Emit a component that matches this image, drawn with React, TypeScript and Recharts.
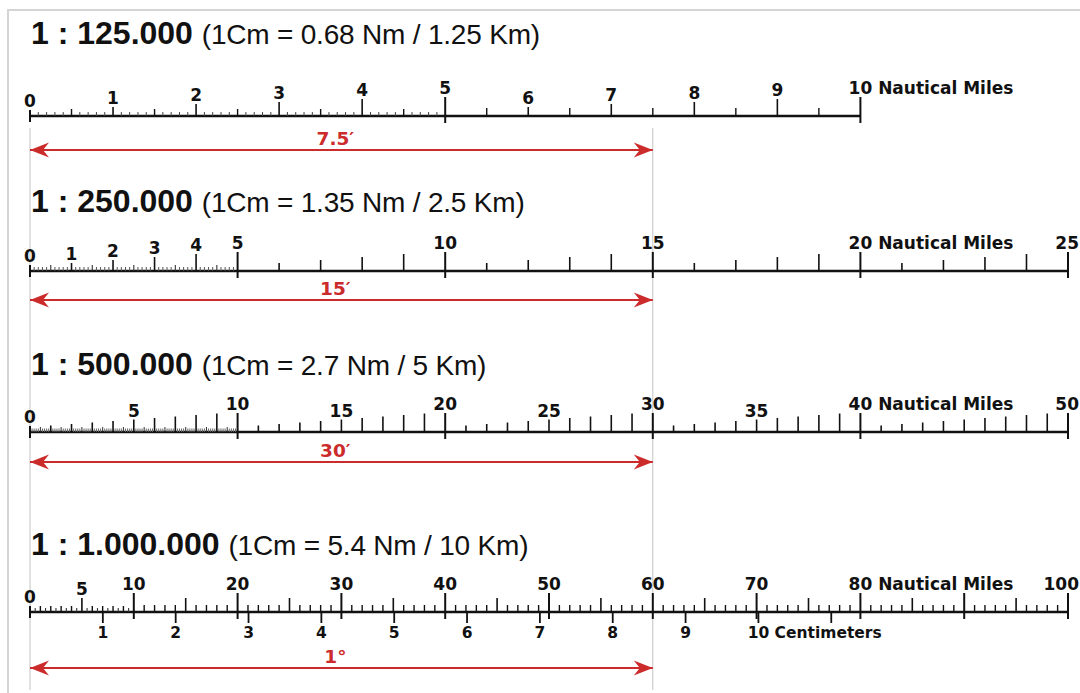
import * as React from "react"
import { ComposedChart, ReferenceLine, Scatter, XAxis, YAxis } from "recharts"

const W = 1080
const H = 693

// scales, top to bottom
const SCALE_IDS = ["s125k", "s250k", "s500k", "s1m"]
const SCALE_RATIO = ["1 : 125.000", "1 : 250.000", "1 : 500.000", "1 : 1.000.000"]
const SCALE_NOTE = [
  "(1Cm = 0.68 Nm / 1.25 Km)",
  "(1Cm = 1.35 Nm / 2.5 Km)",
  "(1Cm = 2.7 Nm / 5 Km)",
  "(1Cm = 5.4 Nm / 10 Km)",
]
const BAR_END_NM = [10, 25, 50, 100]
const AXIS_MAX_NM = [12.5, 25, 50, 100]
const FINE_END_NM = [5, 5, 10, 10]
const FINE_STEP_NM = [0.1, 0.1, 0.1, 0.5]
const COARSE_STEP_NM = [0.5, 1, 1, 1]

const LABELS_125K = [0, 1, 2, 3, 4, 5, 6, 7, 8, 9, 10]
const LABELS_250K = [0, 1, 2, 3, 4, 5, 10, 15, 20, 25]
const LABELS_500K = [0, 5, 10, 15, 20, 25, 30, 35, 40, 50]
const LABELS_1M = [0, 5, 10, 20, 30, 40, 50, 60, 70, 80, 100]
const TICK_LABELS = [LABELS_125K, LABELS_250K, LABELS_500K, LABELS_1M]
const UNIT_AT_NM = [10, 20, 40, 80]

// the red arc of latitude drawn under each scale
const ARC_NM = [7.5, 15, 30, 60]
const ARC_LABEL = ["7.5\u2032", "15\u2032", "30\u2032", "1\u00b0"]

// centimetre ruler under the 1:1.000.000 bar
const CM_TICKS = [1, 2, 3, 4, 5, 6, 7, 8, 9, 10, 11]
const CM_LABELS = [1, 2, 3, 4, 5, 6, 7, 8, 9, 10]
const CM_AXIS_MAX = 14.25

// layout (page rows)
const TITLE_BASE = [44, 212, 375, 555]
const ROW_BASE = [116, 271, 432, 612]
const ARROW_ROW = [150, 300, 462, 668]
const GUIDE_TOP = 128
const GUIDE_BOTTOM = 690

const INK = "#111111"
const RED = "#cc2b2b"
const GUIDE = "#c4c4c4"
const TICK_FONT = "'DejaVu Sans', Verdana, sans-serif"
const TITLE_FONT = "'Liberation Sans', Arial, sans-serif"
const TICK_FS = 17

function tickSize(s: number, nm: number) {
  const t = Math.round(nm * 10)
  if (t === 0) return { up: 6, down: 6, w: 2, c: INK }
  const major = s < 2 ? 50 : 100
  if (t % major === 0) return { up: 19, down: 7, w: 2, c: INK }
  const isInt = t % 10 === 0
  const isHalf = t % 5 === 0
  const k = t / 10
  if (s === 0) {
    if (isInt) return { up: [0, 9, 12, 14, 17][k % 5], down: 0, w: 1.6, c: INK }
    if (isHalf) return { up: nm < 5 ? 7 : 8, down: 0, w: 1.4, c: INK }
    return { up: 4, down: 0, w: 1, c: "#444" }
  }
  if (s === 1) {
    if (isInt) return { up: [0, 8, 11, 14, 17][k % 5], down: 0, w: 1.6, c: INK }
    if (isHalf) return { up: 6, down: 0, w: 1.1, c: "#333" }
    return { up: 4, down: 0, w: 1, c: "#555" }
  }
  if (s === 2) {
    if (isInt) return { up: 5 + 1.5 * (k % 10), down: 0, w: 1.6, c: INK }
    if (isHalf) return { up: 5, down: 0, w: 1, c: "#333" }
    return { up: 3.5, down: 0, w: 1, c: "#666" }
  }
  if (t % 50 === 0) return { up: 14, down: 0, w: 1.6, c: INK }
  if (isInt) return { up: nm < 10 ? 6 : 7, down: 0, w: 1.4, c: INK }
  return { up: 4, down: 0, w: 1.1, c: "#333" }
}

function buildTicks(s: number) {
  const values: number[] = []
  const fineN = Math.round(FINE_END_NM[s] / FINE_STEP_NM[s])
  for (let i = 0; i < fineN; i++) values.push(Math.round(i * FINE_STEP_NM[s] * 10) / 10)
  const coarseN = Math.round((BAR_END_NM[s] - FINE_END_NM[s]) / COARSE_STEP_NM[s])
  for (let i = 0; i <= coarseN; i++) values.push(FINE_END_NM[s] + i * COARSE_STEP_NM[s])
  return values.map((nm) => ({
    nm,
    y: ROW_BASE[s],
    ...tickSize(s, nm),
    label: TICK_LABELS[s].includes(nm) ? String(nm) : null,
    unit: nm === UNIT_AT_NM[s] ? "Nautical Miles" : null,
  }))
}

const cmTicks = CM_TICKS.map((cm) => ({
  nm: cm,
  y: ROW_BASE[3],
  label: CM_LABELS.includes(cm) ? String(cm) : null,
  unit: cm === 10 ? "Centimeters" : null,
}))

function ScaleTick(props: any) {
  const { cx, cy, payload } = props
  if (cx == null || cy == null) return null
  const top = cy - payload.up
  const half = (payload.label ? payload.label.length : 0) * 0.348 * TICK_FS
  // keep the last label inside the page
  const lx = Math.min(cx, W - 1 - half)
  return (
    <g>
      <line x1={cx} x2={cx} y1={top} y2={cy + payload.down} stroke={payload.c} strokeWidth={payload.w} />
      {payload.label != null && (
        <text x={lx} y={top - 3} textAnchor="middle" fontFamily={TICK_FONT} fontWeight="bold" fontSize={TICK_FS} fill={INK}>
          {payload.label}
        </text>
      )}
      {payload.unit && (
        <text x={cx + half + 0.348 * TICK_FS} y={top - 3} fontFamily={TICK_FONT} fontWeight="bold" fontSize={TICK_FS} fill={INK}>
          {payload.unit}
        </text>
      )}
    </g>
  )
}

function CmTick(props: any) {
  const { cx, cy, payload } = props
  if (cx == null || cy == null) return null
  const fs = 15.5
  const half = (payload.label ? payload.label.length : 0) * 0.348 * fs
  return (
    <g>
      <line x1={cx} x2={cx} y1={cy} y2={cy + 11} stroke={INK} strokeWidth={1.8} />
      {payload.label && (
        <text x={cx} y={cy + 26} textAnchor="middle" fontFamily={TICK_FONT} fontWeight="bold" fontSize={fs} fill={INK}>
          {payload.label}
        </text>
      )}
      {payload.unit && (
        <text x={cx + half + 0.348 * fs} y={cy + 26} fontFamily={TICK_FONT} fontWeight="bold" fontSize={fs} fill={INK}>
          {payload.unit}
        </text>
      )}
    </g>
  )
}

function Title(props: any) {
  const { cx, cy, payload } = props
  if (cx == null || cy == null) return null
  return (
    <text x={cx + 1} y={cy} fontFamily={TITLE_FONT} fill={INK}>
      <tspan fontWeight="bold" fontSize={32}>{payload.ratio} </tspan>
      <tspan fontSize={28} letterSpacing={-0.2}>{payload.note}</tspan>
    </text>
  )
}

function ArrowHead(props: any) {
  const { cx, cy, payload } = props
  if (cx == null || cy == null) return null
  const d = payload.dir
  const len = 19
  const half = 7.5
  const notch = 13
  const path = `M${cx},${cy} L${cx - d * len},${cy - half} L${cx - d * notch},${cy} L${cx - d * len},${cy + half} Z`
  return <path d={path} fill={RED} />
}

function ArcLabel(props: any) {
  const { cx, cy, payload } = props
  if (cx == null || cy == null) return null
  return (
    <text x={cx - 6} y={cy - 5} textAnchor="middle" fontFamily={TICK_FONT} fontWeight="bold" fontSize={18.5} fill={RED}>
      {payload.text}
    </text>
  )
}

export default function App() {
  return (
    <div style={{ position: "absolute", left: 0, top: 0, width: W, height: H, background: "#fff", overflow: "hidden" }}>
      <div style={{ position: "absolute", left: 7, top: 9, width: W, height: H, border: "2px solid #d4d4d4" }} />
      <ComposedChart
        width={W}
        height={H}
        margin={{ top: 0, right: 12, bottom: 0, left: 30 }}
        style={{ position: "absolute", left: 0, top: 0 }}
      >
        {SCALE_IDS.map((id, s) => (
          <XAxis key={id} xAxisId={id} dataKey="nm" type="number" domain={[0, AXIS_MAX_NM[s]]} hide />
        ))}
        <XAxis xAxisId="cm" dataKey="nm" type="number" domain={[0, CM_AXIS_MAX]} hide />
        <YAxis yAxisId="page" dataKey="y" type="number" domain={[0, H]} reversed hide />

        {[0, ARC_NM[0]].map((nm) => (
          <ReferenceLine
            key={"guide" + nm}
            xAxisId={SCALE_IDS[0]}
            yAxisId="page"
            segment={[{ x: nm, y: GUIDE_TOP }, { x: nm, y: GUIDE_BOTTOM }]}
            stroke={GUIDE}
            strokeWidth={1}
          />
        ))}

        {SCALE_IDS.map((id, s) => (
          <ReferenceLine
            key={"bar" + id}
            xAxisId={id}
            yAxisId="page"
            segment={[{ x: 0, y: ROW_BASE[s] }, { x: BAR_END_NM[s], y: ROW_BASE[s] }]}
            stroke={INK}
            strokeWidth={2.6}
          />
        ))}

        {SCALE_IDS.map((id, s) => (
          <ReferenceLine
            key={"arc" + id}
            xAxisId={id}
            yAxisId="page"
            segment={[{ x: 0, y: ARROW_ROW[s] }, { x: ARC_NM[s], y: ARROW_ROW[s] }]}
            stroke={RED}
            strokeWidth={2}
          />
        ))}

        {SCALE_IDS.map((id, s) => (
          <Scatter
            key={"ticks" + id}
            xAxisId={id}
            yAxisId="page"
            data={buildTicks(s)}
            shape={(p: any) => <ScaleTick {...p} />}
            isAnimationActive={false}
          />
        ))}

        <Scatter xAxisId="cm" yAxisId="page" data={cmTicks} shape={(p: any) => <CmTick {...p} />} isAnimationActive={false} />

        {SCALE_IDS.map((id, s) => (
          <Scatter
            key={"title" + id}
            xAxisId={id}
            yAxisId="page"
            data={[{ nm: 0, y: TITLE_BASE[s], ratio: SCALE_RATIO[s], note: SCALE_NOTE[s] }]}
            shape={(p: any) => <Title {...p} />}
            isAnimationActive={false}
          />
        ))}

        {SCALE_IDS.map((id, s) => (
          <Scatter
            key={"heads" + id}
            xAxisId={id}
            yAxisId="page"
            data={[
              { nm: 0, y: ARROW_ROW[s], dir: -1 },
              { nm: ARC_NM[s], y: ARROW_ROW[s], dir: 1 },
            ]}
            shape={(p: any) => <ArrowHead {...p} />}
            isAnimationActive={false}
          />
        ))}

        {SCALE_IDS.map((id, s) => (
          <Scatter
            key={"arclabel" + id}
            xAxisId={id}
            yAxisId="page"
            data={[{ nm: ARC_NM[s] / 2, y: ARROW_ROW[s], text: ARC_LABEL[s] }]}
            shape={(p: any) => <ArcLabel {...p} />}
            isAnimationActive={false}
          />
        ))}
      </ComposedChart>
    </div>
  )
}
